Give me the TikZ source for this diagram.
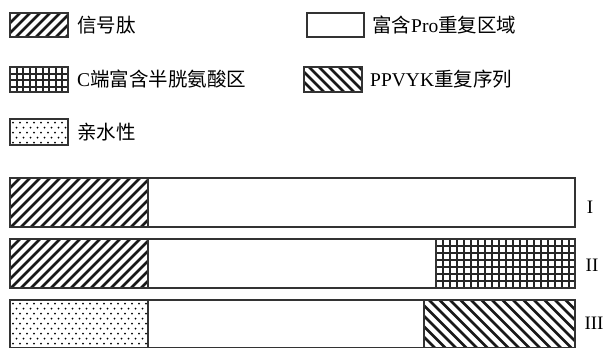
\documentclass[tikz,border=0pt]{standalone}
\usepackage{fontspec}
\setmainfont{Liberation Serif}
\newfontfamily\cjk{Noto Sans CJK SC}
\newcommand\hatchNE[5]{%
  \begin{scope}
    \clip (#1,#2) rectangle (#3,#4);
    \pgfmathsetmacro\hh{#4-#2}
    \foreach \i in {0,...,26}
      \draw[hatchline] ({#1+\i*#5-\hh-5},{#4+5}) -- ++({\hh+10},{-\hh-10});
  \end{scope}}
\newcommand\hatchNW[5]{%
  \begin{scope}
    \clip (#1,#2) rectangle (#3,#4);
    \pgfmathsetmacro\hh{#4-#2}
    \foreach \i in {0,...,26}
      \draw[hatchline] ({#1+\i*#5-\hh-5},{#2-5}) -- ++({\hh+10},{\hh+10});
  \end{scope}}
\newcommand\gridfill[5]{%
  \begin{scope}
    \clip (#1,#2) rectangle (#3,#4);
    \foreach \i in {0,...,24}
      \draw[gridline] ({#1+\i*#5},#2) -- ({#1+\i*#5},#4);
    \foreach \i in {0,...,9}
      \draw[gridline] (#1,{#2+\i*#5}) -- (#3,{#2+\i*#5});
  \end{scope}}
\newcommand\dotpattern[4]{%
  \begin{scope}
    \clip (#1,#2) rectangle (#3,#4);
    \foreach \r in {0,...,11} {
      \pgfmathsetmacro\off{mod(\r,2)*3.5}
      \foreach \c in {0,...,24}
        \fill[dotcol] ({#1+3+\off+7*\c},{#2+3.5+5*\r}) circle (1.0);
    }
  \end{scope}}
\begin{document}
\begin{tikzpicture}[x=1pt,y=-1pt,
  outline/.style={draw=black!80,line width=1.4pt},
  hatchline/.style={black!90,line width=2.6pt},
  gridline/.style={black!85,line width=2pt},
  dotcol/.style={black},
  lab/.style={anchor=west,inner sep=0pt,font=\fontsize{19.5}{19.5}\selectfont},
  roman/.style={anchor=center,inner sep=0pt,font=\fontsize{19}{19}\selectfont}]
\useasboundingbox (0,0) rectangle (604,349);
% legend
\hatchNE{10}{13}{68}{37}{10}
\draw[outline] (10,13) rectangle (68,37);
\node[lab] (t1) at (77,25) {\cjk 信号肽};
\gridfill{10}{67}{68}{92}{6.5}
\draw[outline] (10,67) rectangle (68,92);
\node[lab] (t2) at (77,79.5) {C{\cjk 端富含半胱氨酸区}};
\dotpattern{10}{119}{68}{145}
\draw[outline] (10,119) rectangle (68,145);
\node[lab] (t3) at (77,132) {\cjk 亲水性};
\draw[outline] (307,13) rectangle (364,37);
\node[lab] (t4) at (372,25) {{\cjk 富含}Pro{\cjk 重复区域}};
\hatchNW{304}{67}{362}{92}{10}
\draw[outline] (304,67) rectangle (362,92);
\node[lab] (t5) at (370,79.5) {PPVYK{\cjk 重复序列}};
% bar I
\hatchNE{10}{178}{148}{227}{10}
\draw[outline] (10,178) rectangle (575,227);
\draw[outline] (148,178) -- (148,227);
\node[roman] (r1) at (590,207) {I};
% bar II
\hatchNE{10}{239}{148}{288}{10}
\gridfill{436}{239}{575}{288}{7}
\draw[outline] (10,239) rectangle (575,288);
\draw[outline] (148,239) -- (148,288);
\draw[outline] (436,239) -- (436,288);
\node[roman] (r2) at (592,265.5) {II};
% bar III
\dotpattern{10}{300}{148}{347.5}
\hatchNW{424}{300}{575}{347.5}{10.5}
\draw[outline] (10,300) rectangle (575,347.5);
\draw[outline] (148,300) -- (148,347.5);
\draw[outline] (424,300) -- (424,347.5);
\node[roman] (r3) at (594,323) {III};
\end{tikzpicture}
\end{document}
